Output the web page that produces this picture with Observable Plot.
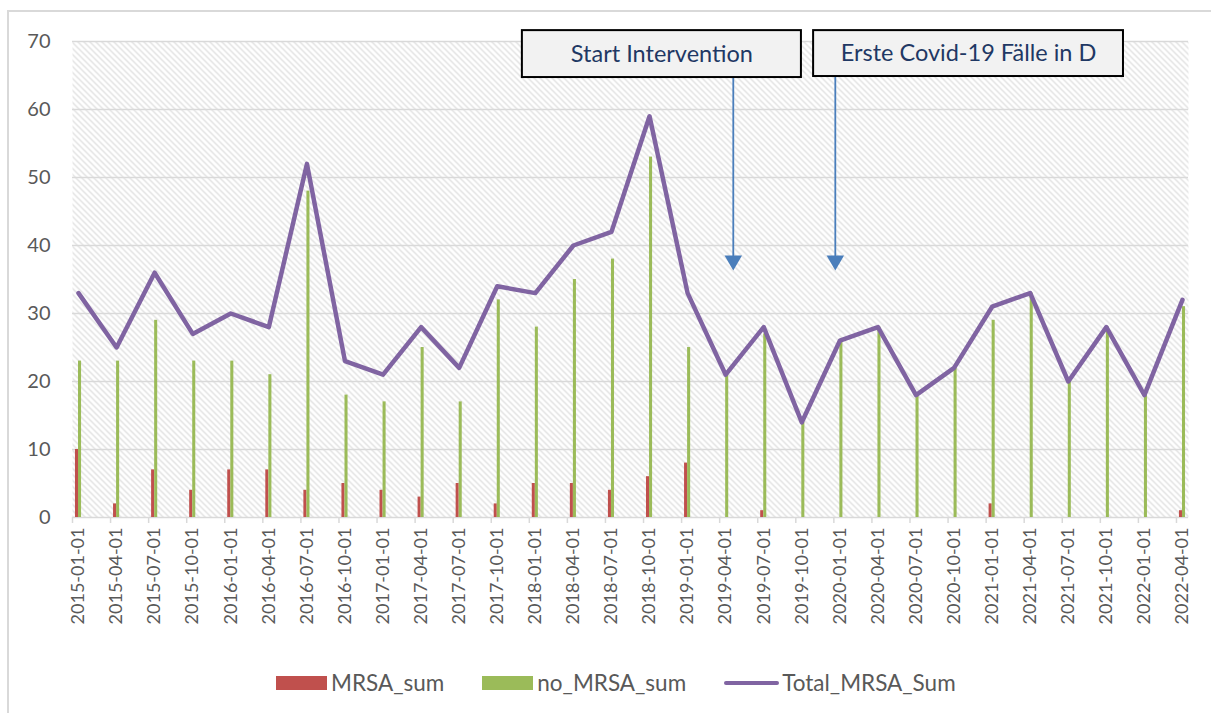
<!DOCTYPE html>
<html>
<head>
<meta charset="utf-8">
<script src="https://cdn.jsdelivr.net/npm/d3@7"></script>
<script src="https://cdn.jsdelivr.net/npm/@observablehq/plot@0.6"></script>
<style>
  html, body { margin: 0; padding: 0; background: #fff; }
  body { position: relative; width: 1211px; height: 713px; overflow: hidden; font-family: Lato, "DejaVu Sans", sans-serif; }
  #border { position: absolute; left: 7px; top: 10px; width: 1300px; height: 800px; border: 2px solid #d9d9d9; box-sizing: border-box; }
  #chart { position: absolute; left: 0; top: 0; }
  #legend { position: absolute; left: 276px; top: 669px; display: flex; align-items: center; font-size: 22.5px; color: #595959; }
  .item { display: flex; align-items: center; margin-right: 38px; }
  .sw { width: 51px; height: 14px; margin-right: 4px; }
  .ln { width: 55px; height: 4px; border-radius: 2px; margin-right: 3px; }
</style>
</head>
<body>
<div id="border"></div>
<div id="chart"></div>
<div id="legend"></div>
<script>
const dates = ["2015-01-01","2015-04-01","2015-07-01","2015-10-01","2016-01-01","2016-04-01","2016-07-01","2016-10-01","2017-01-01","2017-04-01","2017-07-01","2017-10-01","2018-01-01","2018-04-01","2018-07-01","2018-10-01","2019-01-01","2019-04-01","2019-07-01","2019-10-01","2020-01-01","2020-04-01","2020-07-01","2020-10-01","2021-01-01","2021-04-01","2021-07-01","2021-10-01","2022-01-01","2022-04-01"];
const mrsaSum   = [10, 2, 7, 4, 7, 7, 4, 5, 4, 3, 5, 2, 5, 5, 4, 6, 8, 0, 1, 0, 0, 0, 0, 0, 2, 0, 0, 0, 0, 1];
const noMrsaSum = [23, 23, 29, 23, 23, 21, 48, 18, 17, 25, 17, 32, 28, 35, 38, 53, 25, 21, 27, 14, 26, 28, 18, 22, 29, 33, 20, 28, 18, 31];
const totalSum  = [33, 25, 36, 27, 30, 28, 52, 23, 21, 28, 22, 34, 33, 40, 42, 59, 33, 21, 28, 14, 26, 28, 18, 22, 31, 33, 20, 28, 18, 32];
const yTicks = [0, 10, 20, 30, 40, 50, 60, 70];
const seriesNames = ["MRSA_sum", "no_MRSA_sum", "Total_MRSA_Sum"];
const seriesColors = ["#c0504d", "#9bbb59", "#8064a2"];
// annotations: x in category-index units, y in value units
const annotations = [
  {label: "Start Intervention", x1: 11.66, x2: 18.99, y1: 64.7, y2: 71.6, arrowX: 17.2, arrowTip: 37.8},
  {label: "Erste Covid-19 Fälle in D", x1: 19.31, x2: 27.45, y1: 64.85, y2: 71.6, arrowX: 19.88, arrowTip: 37.8}
];

const rows = dates.map((d, i) => ({i, date: d, mrsa: mrsaSum[i], no: noMrsaSum[i], total: totalSum[i]}));
const font = "Lato, 'DejaVu Sans', sans-serif";
const idx = rows.map(r => r.i);

const plot = Plot.plot({
  width: 1211,
  height: 660,
  marginLeft: 72,
  marginRight: 23,
  marginTop: 41,
  marginBottom: 143,
  style: {fontFamily: font, fontSize: "18px", color: "#595959", background: "transparent"},
  x: {type: "linear", domain: [-0.158, 29.158]},
  y: {domain: [0, 70]},
  marks: [
    Plot.frame({fill: "url(#hatch)", stroke: null}),
    Plot.gridY(yTicks.filter(t => t > 0), {stroke: "#d9d9d9", strokeOpacity: 1, strokeWidth: 1.5}),
    Plot.ruleY([0], {stroke: "#d9d9d9", strokeWidth: 1.5}),
    Plot.axisY(yTicks, {tickSize: 0, tickPadding: 22, fontSize: 20, fill: "#595959", label: null}),
    Plot.axisX(idx.map(i => i - 0.158), {tickSize: 6, stroke: "#d9d9d9", strokeWidth: 1.5, tickFormat: () => "", label: null}),
    Plot.axisX(idx, {tickSize: 0, tickPadding: 10, tickRotate: -90, tickFormat: i => dates[i], fontSize: 18, fill: "#595959", label: null}),
    Plot.rectY(rows, {x1: d => d.i - 0.08, x2: d => d.i, y: "mrsa", fill: seriesColors[0]}),
    Plot.rectY(rows, {x1: d => d.i, x2: d => d.i + 0.08, y: "no", fill: seriesColors[1]}),
    Plot.line(rows, {x: "i", y: "total", stroke: seriesColors[2], strokeWidth: 4.5, strokeLinejoin: "round", strokeLinecap: "round"}),
    Plot.ruleX(annotations, {x: "arrowX", y1: "y1", y2: "arrowTip", stroke: "#4a7ebb", strokeWidth: 1.8}),
    Plot.dot(annotations, {x: "arrowX", y: "arrowTip", symbol: "triangle", r: 6.5, rotate: 180, fill: "#4a7ebb", stroke: null}),
    Plot.rect(annotations, {x1: "x1", x2: "x2", y1: "y1", y2: "y2", fill: "#f2f2f2", stroke: "#000", strokeWidth: 2}),
    Plot.text(annotations, {x: d => (d.x1 + d.x2) / 2, y: d => (d.y1 + d.y2) / 2, text: "label", fill: "#1f3864", fontSize: 23.5, fontFamily: font})
  ]
});

plot.insertAdjacentHTML("afterbegin",
  '<defs><pattern id="hatch" patternUnits="userSpaceOnUse" width="6" height="6">' +
  '<rect width="6" height="6" fill="#ffffff"/>' +
  '<path d="M-1,-1 L7,7 M-1,5 L1,7 M5,-1 L7,1" stroke="#d9d9d9" stroke-width="1.2"/>' +
  '</pattern></defs>');
document.getElementById("chart").appendChild(plot);

const legend = document.getElementById("legend");
seriesNames.forEach((name, k) => {
  const item = document.createElement("div");
  item.className = "item";
  const sw = document.createElement("span");
  sw.className = k === 2 ? "ln" : "sw";
  sw.style.background = seriesColors[k];
  const t = document.createElement("span");
  t.textContent = name;
  item.appendChild(sw);
  item.appendChild(t);
  legend.appendChild(item);
});
</script>
</body>
</html>
